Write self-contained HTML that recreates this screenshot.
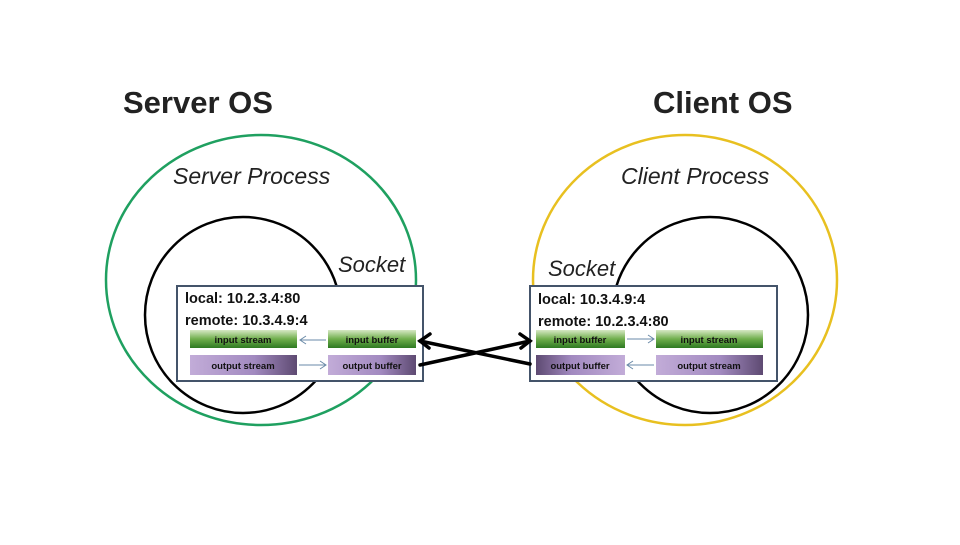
<!DOCTYPE html>
<html><head><meta charset="utf-8"><style>
body{margin:0;background:#fff;width:960px;height:540px;overflow:hidden}
svg text{font-family:"Liberation Sans",sans-serif}
</style></head><body>
<svg width="960" height="540" viewBox="0 0 960 540" xmlns="http://www.w3.org/2000/svg">
<defs>
<linearGradient id="g" x1="0" y1="0" x2="0" y2="1"><stop offset="0" stop-color="#d6e8c4"/><stop offset="0.5" stop-color="#6fae4c"/><stop offset="1" stop-color="#2e7a22"/></linearGradient>
<linearGradient id="p" x1="0" y1="0" x2="1" y2="0"><stop offset="0" stop-color="#c2acd8"/><stop offset="0.6" stop-color="#a28ac0"/><stop offset="1" stop-color="#5e4a72"/></linearGradient>
<linearGradient id="p2" x1="1" y1="0" x2="0" y2="0"><stop offset="0" stop-color="#c2acd8"/><stop offset="0.6" stop-color="#a28ac0"/><stop offset="1" stop-color="#5e4a72"/></linearGradient>
</defs>
<text x="123" y="113" font-size="31" font-weight="bold" fill="#222">Server OS</text>
<text x="653" y="113" font-size="31" font-weight="bold" fill="#222">Client OS</text>
<ellipse cx="261" cy="280" rx="155" ry="145" fill="none" stroke="#1fa060" stroke-width="2.5"/>
<ellipse cx="685" cy="280" rx="152" ry="145" fill="none" stroke="#e8c020" stroke-width="2.5"/>
<text x="173" y="184" font-size="23" font-style="italic" fill="#222">Server Process</text>
<text x="621" y="184" font-size="23" font-style="italic" fill="#222">Client Process</text>
<circle cx="243" cy="315" r="98" fill="none" stroke="#000" stroke-width="2.5"/>
<circle cx="710" cy="315" r="98" fill="none" stroke="#000" stroke-width="2.5"/>
<text x="338" y="272" font-size="22" font-style="italic" fill="#222">Socket</text>
<text x="548" y="276" font-size="22" font-style="italic" fill="#222">Socket</text>
<rect x="177" y="286" width="246" height="95" fill="#fff" stroke="#44546a" stroke-width="2"/>
<rect x="530" y="286" width="247" height="95" fill="#fff" stroke="#44546a" stroke-width="2"/>
<g font-size="14.5" font-weight="bold" fill="#111">
<text x="185" y="303">local: 10.2.3.4:80</text>
<text x="185" y="325">remote: 10.3.4.9:4</text>
<text x="538" y="304">local: 10.3.4.9:4</text>
<text x="538" y="326">remote: 10.2.3.4:80</text>
</g>
<rect x="190" y="330" width="107" height="18" fill="url(#g)"/>
<rect x="328" y="330" width="88" height="18" fill="url(#g)"/>
<rect x="190" y="355" width="107" height="20" fill="url(#p)"/>
<rect x="328" y="355" width="88" height="20" fill="url(#p)"/>
<rect x="536" y="330" width="89" height="18" fill="url(#g)"/>
<rect x="656" y="330" width="107" height="18" fill="url(#g)"/>
<rect x="536" y="355" width="89" height="20" fill="url(#p2)"/>
<rect x="656" y="355" width="107" height="20" fill="url(#p)"/>
<g font-size="9.5" font-weight="bold" fill="#111" text-anchor="middle">
<text x="243" y="343">input stream</text>
<text x="372" y="343">input buffer</text>
<text x="243" y="369">output stream</text>
<text x="372" y="369">output buffer</text>
<text x="580" y="343">input buffer</text>
<text x="709" y="343">input stream</text>
<text x="580" y="369">output buffer</text>
<text x="709" y="369">output stream</text>
</g>
<g stroke="#6a8aa8" stroke-width="1" fill="none">
<line x1="300" y1="340" x2="326" y2="340"/><polyline points="306,336 300,340 306,344"/>
<line x1="299" y1="365" x2="326" y2="365"/><polyline points="320,361 326,365 320,369"/>
<line x1="627" y1="339" x2="654" y2="339"/><polyline points="648,335 654,339 648,343"/>
<line x1="627" y1="365" x2="654" y2="365"/><polyline points="633,361 627,365 633,369"/>
</g>
<g stroke="#000" stroke-width="3.5" fill="none" stroke-linecap="round">
<line x1="420" y1="341" x2="530" y2="364"/>
<line x1="420" y1="365" x2="530" y2="341"/>
<polyline points="430,334 420,341 429,348"/>
<polyline points="520,334 530,341 521,348"/>
</g>
</svg>
</body></html>
